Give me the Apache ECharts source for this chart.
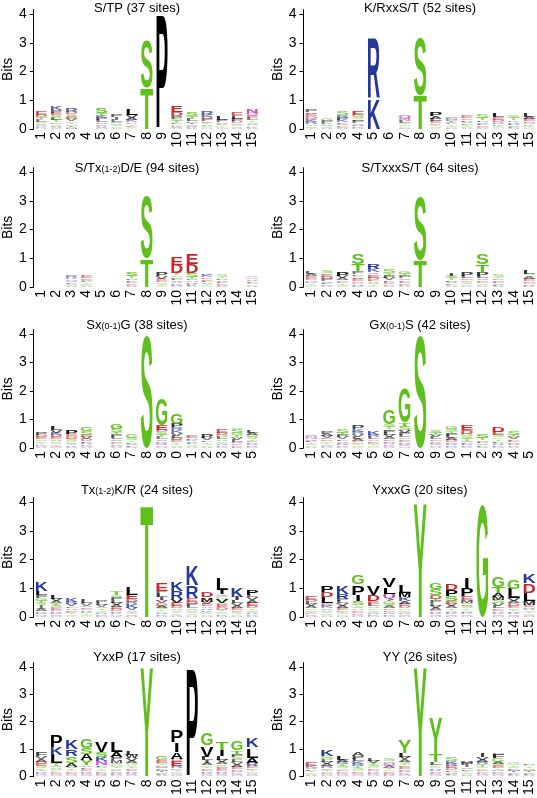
<!DOCTYPE html>
<html><head><meta charset="utf-8">
<script src="https://cdn.jsdelivr.net/npm/echarts@6/dist/echarts.min.js"></script>
<style>html,body{margin:0;padding:0;background:#fff}#c{width:537px;height:798px}</style>
</head><body><div id="c"></div>
<script>
// ---------- data ----------
const tickLabels = ['1','2','3','4','5','6','7','8','9','10','11','12','13','14','15'];
const tickLabelsRow3 = ['1','2','3','4','5','6','7','8','9','0','1','2','3','4','5'];
const yTicks = [0, 1, 2, 3, 4];

const titles = [
  ['S/TP (37 sites)'],
  ['K/RxxS/T (52 sites)'],
  ['S/Tx', '(1-2)', 'D/E (94 sites)'],
  ['S/TxxxS/T (64 sites)'],
  ['Sx', '(0-1)', 'G (38 sites)'],
  ['Gx', '(0-1)', 'S (42 sites)'],
  ['Tx', '(1-2)', 'K/R (24 sites)'],
  ['YxxxG (20 sites)'],
  ['YxxP (17 sites)'],
  ['YY (26 sites)']
];

// each column: letters from bottom to top, height in hundredths of a bit
const logoSTP = ['N03 K03 A04 G05 V05 S06 L07 T08 D09 E12','Q03 A04 V05 G05 D06 T07 L08 S09 E10 P09 K12','M03 A04 I04 N05 T06 G06 V07 E08 S08 D09 R12','','N03 V04 A05 D05 E06 L07 P08 K08 T10 S16','S04 G05 T05 A06 V06 L07 I07 P09','G03 S04 E05 T05 D06 K07 A08 V10 L20','T145 S170','P397','A03 V04 K04 G05 L06 T07 S07 P08 D14 E22','E03 K04 A04 V05 I05 P06 L08 T10 S15','N03 G04 S04 A05 T05 E06 P07 D08 K08 R12','S04 G04 T05 E05 A06 P07 L12','A04 S05 G05 V06 D07 P08 L10 E12','A04 K04 G05 V05 S06 T06 L07 E08 Q10 N15'];
const logoKRxxST = ['T05 S06 G06 R07 K07 Q05 D08 E08 A06 P08','A05 S05 V06 L06 P07 G08','A04 E04 D05 V05 L06 K08 P08 R08 S12','N04 K05 R06 A06 P07 L06 S07 G07 E15','K110 R210','','A05 G05 S06 T06 L07 N08 Q12','T120 S200','G04 S05 T05 D06 E07 L08 A10 P15','A04 G04 S04 T04 L04 V04 I04 P04 M04 F04 W05','A03 S04 G04 T04 L05 V05 P06 D06 E08','A04 D04 E05 L05 V06 P06 T08 S11','G03 S04 T04 K05 R06 N04 D07 E08 L14','A04 L04 V05 P05 R06 K06 T07 S08','S03 G04 T04 K05 N05 D06 E08 A08 L12'];
const logoSTxDE = ['','','A04 G04 S04 L05 V05 N05 K06 R07','A04 G04 S04 T04 L05 V05 D06 E08','','','A04 D04 E05 K05 L06 P06 T08 S14','T100 S220','G03 S04 T04 A05 D06 E07 V08 P12','N04 R04 K05 A05 V05 L06 P06 S06 T07 D30 E27','A03 L04 K05 R06 N05 P05 T08 S12 D32 E42','S04 G04 T04 A05 L05 E06 D06 K07 R05','A04 D04 E05 L05 V06 P06 T06 S07','','A05 G05 S05 L06 V06 N05 Q05'];
const logoSTxxxST = ['S04 G04 T05 K05 N05 D06 E08 A07 L08','A04 K05 L05 V06 P07 D07 E07 G06 S10','G04 S04 T05 E05 D06 A07 V08 P15','K05 R06 N04 D05 E07 A06 G06 L06 P07 T26 S34','G04 T05 S06 A05 L06 D07 E10 Q08 K11 R16','A04 D05 E05 K05 L06 V07 P08 T08 S12','A04 K04 D05 E05 L06 V06 P07 T08 G10','T095 S225','','A04 G04 L05 V05 P06 T07 S08 I10','A04 G05 S05 T05 D05 E06 L07 P12','A04 G04 S05 D05 E06 V06 L08 P12 T28 S34','A04 L04 V05 P05 E06 D06 T06 S07','','K04 R05 N05 D06 E07 A07 T06 S05 L12'];
const logoSxG = ['A04 N04 K05 T05 G06 S06 E08 D07 P10','N04 Q04 T05 S05 G06 A06 E07 D08 K09 V10 L14','A04 K05 T05 V06 G06 S07 D08 E08 P15','A04 N04 K05 R06 L06 D07 V07 E07 S12 G15','','A04 N04 K05 D05 E06 V06 L07 P08 T10 S12 G20','A05 L05 V05 P06 T06 S08 G12','S396','A04 N04 Q05 R05 K06 V06 L07 T08 S10 D08 E18 G95','A04 S05 G05 T06 E07 D08 L08 V09 K10 R10 P13 G35','A04 G04 S05 L05 V05 K05 P06 E09','A05 G05 S05 T06 L06 V08 P12','N04 K05 R05 T05 S06 A06 L07 G08 D08 E12','K05 D05 E06 R06 L07 V07 T08 G10 S12 A04','N04 K05 R05 D06 E06 T06 S07 G07 A08 L10'];
const logoGxS = ['A05 G05 S05 T05 L06 V06 N07 Q08','N04 K04 S05 T05 G06 E06 D06 V07 A07 P08','N04 K05 R05 E05 A06 L06 V07 P08 T08 S12','G04 S05 T05 E06 D06 A07 L07 V08 R08 K09 P11','G04 S05 T05 D05 E06 A06 L07 R08 K12','N04 Q04 K05 R05 D06 E06 A07 V07 L08 P09 I05 T07 S09 G54','N05 Q05 K05 R05 D06 E06 A06 L07 P07 V10 S12 T14 G125','S396','A04 N05 Q05 K05 D06 E06 L07 V07 T07 S10','N04 K05 R05 E06 D07 A07 L07 P09 T08 S10 G10','A04 K05 R05 L06 V06 T07 S08 G09 D12 E16','A05 L05 V06 P06 D06 T08 S14','N04 K05 R05 A05 L06 T06 G06 S08 E12 D19','A04 K05 R05 D06 E06 L06 V07 T07 S12',''];
const logoTxKR = ['Q04 N05 R06 K05 A07 V06 I07 S08 T08 G10 F09 L15 K32','N04 Q05 K05 R06 D06 E07 S07 T07 A07 V08 L14','G04 S05 T05 D05 E06 A06 L06 V07 R08 K12','G04 S04 T05 K05 R05 D05 E06 A06 V07 L11','N04 K05 R05 G05 S05 T06 A06 V07 L07 P08','Q04 N05 K05 R06 D07 E07 A07 V08 L09 P09 S08 T12','N04 Q05 S05 T05 A06 V07 K12 R08 D10 E16 L27','T396','N04 K05 R05 G06 T06 S07 A07 D08 V08 Q04 I10 L12 P08 E27','N04 Q04 G05 T05 S06 A06 D08 E12 V14 R26 K38','N04 G04 S05 T05 A06 V06 L07 P08 D08 E12 R45 K74','N04 G05 S05 T05 K06 R06 A06 E08 V08 M15 D19','N04 K05 G05 S06 T06 D08 E10 A06 V14 C08 Q08 I15 L45','N04 G05 S05 T05 D06 E08 A07 V08 L10 I12 K29','N04 K05 R05 G05 S06 T06 D07 E12 A09 V10 L08 P16'];
const logoYxxxG = ['N04 Q05 K05 T05 S06 G06 A07 V07 L07 D08 E12','N04 G04 S05 T05 A06 V06 K07 R06 E07 L20 D17 P22','N04 G05 S05 T05 D06 E07 A07 V08 L08 P08 R17 K25','N04 Q04 K05 D05 E06 A06 V05 T05 S15 I22 P38 G37','N04 K05 R05 T05 S06 G06 A06 L08 E10 D20 V32','N04 K05 R05 T05 D06 E06 A07 S08 G08 I06 Q20 L23 V31','N04 Q05 R05 T05 S06 G06 D07 E07 A10 K13 M17 L25','Y396','N04 Q05 K05 R06 E06 A07 V07 L07 P08 T09 D11 S22 G22','N04 Q05 K05 R05 G06 T06 A07 V07 E10 S18 P20 D24','N04 Q05 K05 R05 G06 T06 S07 D06 A06 M10 E12 P28 I40','G396','N04 Q05 K05 R06 D06 E06 L07 V08 S11 M12 A15 T20 G43','N04 Q05 K05 R06 T06 S06 E07 D08 A08 V10 L33 G30','N04 Q04 G05 T05 S05 A06 R06 E07 M13 L27 D35 K29'];
const logoYxxP = ['N04 Q04 K05 R05 T06 G06 S07 E08 D09 A09 V10 F12','N04 Q04 D05 E05 G05 S05 A05 V05 T10 L30 K27 P47','N04 Q04 D05 E05 G05 T06 V06 A15 S25 R25 K34','N04 Q04 K05 R05 D05 E05 L06 V06 Y20 A22 S23 G32','Q04 R05 D05 E05 G05 T05 A05 L06 N15 K15 S20 V35','N04 K05 R05 D05 E05 S06 T06 G07 Q07 M10 P10 A20 L35','N04 Q05 K05 R05 D05 E06 T06 S06 G07 A08 V10 W12 L14','Y396','A05 L05 V05 I05 M05 F05 W05 P05 T05 N05 E11 G15','N04 Q04 G05 S05 T06 K06 R08 E20 D07 A25 I35 P50','P396','N04 Q04 K05 R05 E06 D06 T06 S06 A08 I10 L12 V42 G49','N04 Q04 K05 R06 D06 E08 G06 S06 A08 V08 L14 I22 T28','N05 Q05 K05 R06 D06 E08 A08 V08 L09 S10 P10 T15 G31','N04 Q05 G05 S05 T05 D06 E08 R12 A17 L39 K32'];
const logoYY = ['A05 S05 G05 T05 L06 V06 K07 E12','N04 Q04 D05 S05 T06 E06 R07 A07 V07 L08 G09 C08 K23','N04 Q04 K05 D05 E06 G06 S07 T07 R07 A09 L15','N04 Q04 D05 E06 G06 S07 T07 R08 K09 L09 P10 A12','N04 Q04 K05 R05 D05 E06 G06 S07 T07 V08 L10','K04 R05 D05 E06 G06 T06 A07 N08 Q08 S09','N05 Q05 K05 R06 D06 E08 G06 T06 S07 A08 V10 L15 Y53','Y396','N04 Q04 D05 E05 K06 R06 G06 S06 L10 T30 Y137','A05 L05 V06 P06 D07 E08 R08 K10 S12','A05 G05 S05 T06 L06 V06 I07 P07 M08','N04 Q04 K05 D05 E06 G06 S06 T08 R08 A08 V10 I12','N04 Q04 D05 K05 R06 T06 E08 S08 A08 G12 F14 P04','A05 L05 V05 I05 M05 F05 S06 T06 G07','A05 L05 V05 I05 M05 S06 T06 G06 P06'];

const logos = [logoSTP, logoKRxxST, logoSTxDE, logoSTxxxST, logoSxG, logoGxS, logoTxKR, logoYxxxG, logoYxxP, logoYY];
const panelLabels = [tickLabels, tickLabels, tickLabels, tickLabels, tickLabelsRow3, tickLabelsRow3, tickLabels, tickLabels, tickLabels, tickLabels];

// ---------- styles / layout ----------
const FF = '"Liberation Sans", Arial, sans-serif';
const LETTER_FONT = 'bold 100px "Liberation Sans", Arial, sans-serif';
const COLORS = { green: '#5fbf1d', purple: '#c23fc2', blue: '#24389b', red: '#c8262b', black: '#000000' };
function letterColor(ch) {
  if ('GSTYC'.includes(ch)) return COLORS.green;
  if ('NQ'.includes(ch)) return COLORS.purple;
  if ('KRH'.includes(ch)) return COLORS.blue;
  if ('DE'.includes(ch)) return COLORS.red;
  return COLORS.black;
}
const COLS = [{ left: 29.3, width: 230.4, cx: 137 }, { left: 303.5, width: 234, cx: 420 }];
const ROWS = [
  { top: 9.7, height: 119.3, ty: 8 },
  { top: 167.7, height: 119.3, ty: 168 },
  { top: 329.7, height: 118.3, ty: 325 },
  { top: 497.7, height: 119.3, ty: 490 },
  { top: 662.7, height: 119.3, ty: 657 }
];
const YMAX = 4.15;

// glyph metrics (middle baseline, as drawn by zrender)
const mctx = document.createElement('canvas').getContext('2d');
mctx.font = LETTER_FONT; mctx.textAlign = 'center'; mctx.textBaseline = 'middle';
const metricCache = {};
function metric(ch) {
  if (!metricCache[ch]) {
    const m = mctx.measureText(ch);
    metricCache[ch] = { W: m.width, A: m.actualBoundingBoxAscent, D: m.actualBoundingBoxDescent };
  }
  return metricCache[ch];
}

function parseCol(s) {
  return s ? s.split(' ').map(t => ({ ch: t[0], h: parseInt(t.slice(1), 10) / 100 })) : [];
}

function buildItems(logo) {
  const items = [];
  logo.forEach((col, ci) => {
    let y = 0;
    parseCol(col).forEach(tok => {
      items.push({ x: ci, y0: y, y1: y + tok.h, ch: tok.ch });
      y += tok.h;
    });
  });
  return items;
}

function makeRender(items) {
  return function (params, api) {
    const it = items[params.dataIndex];
    const pb = api.coord([api.value(0), api.value(1)]);
    const pt = api.coord([api.value(0), api.value(2)]);
    const bw = api.size([1, 0])[0];
    let top = pt[1];
    let hPx = pb[1] - top;
    if (hPx < 0.2) return null;
    if (hPx > 10) { top += 1.5; hPx -= 1.5; }
    const m = metric(it.ch);
    const sx = (bw * 0.86) / Math.max(m.W, 60);
    const sy = hPx / (m.A + m.D);
    return {
      type: 'text',
      x: pb[0],
      y: top + sy * m.A,
      scaleX: sx,
      scaleY: sy,
      silent: true,
      style: {
        text: it.ch, font: LETTER_FONT, fill: letterColor(it.ch),
        align: 'center', verticalAlign: 'middle',
        opacity: Math.min(1, 0.2 + hPx / 6)
      }
    };
  };
}

const grids = [], xAxes = [], yAxes = [], series = [], graphics = [];
logos.forEach((logo, i) => {
  const col = COLS[i % 2], row = ROWS[Math.floor(i / 2)];
  grids.push({ left: col.left, width: col.width, top: row.top, height: row.height });
  xAxes.push({
    type: 'category', gridIndex: i, data: panelLabels[i], boundaryGap: true,
    axisLine: { show: false }, axisTick: { show: false },
    axisLabel: { rotate: 90, interval: 0, fontSize: 14, color: '#000', margin: 3, fontFamily: FF }
  });
  yAxes.push({
    type: 'value', gridIndex: i, min: 0, max: YMAX,
    axisLine: { show: true, lineStyle: { color: '#000', width: 1 } },
    axisTick: { show: true, length: 4, customValues: yTicks, lineStyle: { color: '#000' } },
    axisLabel: { customValues: yTicks, fontSize: 14, color: '#000', margin: 7, fontFamily: FF },
    splitLine: { show: false },
    name: 'Bits', nameLocation: 'middle', nameGap: 17,
    nameTextStyle: { fontSize: 14, color: '#000', fontFamily: FF }
  });
  const items = buildItems(logo);
  series.push({
    type: 'custom', xAxisIndex: i, yAxisIndex: i, silent: true, animation: false,
    data: items.map(it => [it.x, it.y0, it.y1]),
    encode: { x: 0, y: [1, 2] },
    renderItem: makeRender(items)
  });
  const parts = titles[i];
  graphics.push({
    type: 'text', x: col.cx, y: row.ty, silent: true,
    style: {
      text: parts.map((s, k) => `{${k % 2 ? 'b' : 'a'}|${s}}`).join(''),
      rich: {
        a: { fontSize: 13, fontFamily: FF, fill: '#000', verticalAlign: 'bottom' },
        b: { fontSize: 9, fontFamily: FF, fill: '#000', verticalAlign: 'bottom' }
      },
      align: 'center', verticalAlign: 'middle'
    }
  });
});

const chart = echarts.init(document.getElementById('c'), null, { renderer: 'canvas' });
chart.setOption({
  animation: false,
  backgroundColor: '#fff',
  textStyle: { fontFamily: FF },
  grid: grids, xAxis: xAxes, yAxis: yAxes, series: series,
  graphic: graphics
});
</script>
</body></html>
